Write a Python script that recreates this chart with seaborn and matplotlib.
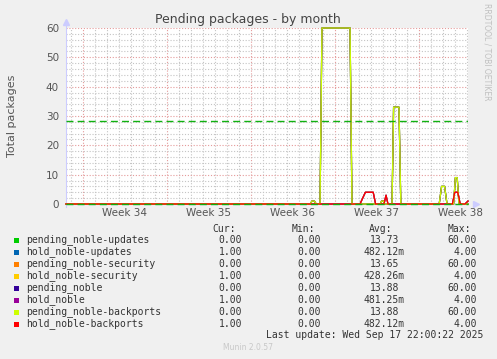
import pandas as pd
import numpy as np
import matplotlib
matplotlib.use('Agg')
import matplotlib.pyplot as plt
from matplotlib.ticker import FixedLocator, MultipleLocator
from matplotlib.patches import Rectangle
import seaborn as sns

# data (time in days from left edge of the graph)
series_names = ["pending_noble-updates", "hold_noble-updates", "pending_noble-security",
                "hold_noble-security", "pending_noble", "hold_noble",
                "pending_noble-backports", "hold_noble-backports"]
series_colors = ["#00CC00", "#0066B3", "#FF8000", "#FFCC00",
                 "#330099", "#990099", "#CCFF00", "#FF0000"]

t_pending = [0, 20.35, 20.5, 20.7, 20.85, 21.17, 21.33, 23.67, 23.83, 26.2, 26.3, 26.45, 26.55,
             27.17, 27.3, 27.75, 27.9, 31.1, 31.3, 31.55, 31.75, 32.3, 32.45, 32.6, 32.75, 33.5]
v_pending = [0, 0, 1, 1, 0, 0, 60, 60, 0, 0, 1, 1, 0,
             0, 33, 33, 0, 0, 6, 6, 0, 0, 9, 9, 0, 0]

t_hold = [0, 24.5, 24.95, 25.6, 25.8, 26.5, 26.67, 26.83, 32.2, 32.4, 32.65, 32.85, 33.25, 33.5]
v_hold = [0, 0, 4, 4, 0, 0, 3, 0, 0, 4, 4, 0, 0, 1]

week_labels = ["Week 34", "Week 35", "Week 36", "Week 37", "Week 38"]
week_starts = [1.39, 8.39, 15.39, 22.39, 29.39]
threshold = 28.3

cur = ["0.00", "1.00", "0.00", "1.00", "0.00", "1.00", "0.00", "1.00"]
mins = ["0.00"] * 8
avg = ["13.73", "482.12m", "13.65", "428.26m", "13.88", "481.25m", "13.88", "482.12m"]
mx = ["60.00", "4.00", "60.00", "4.00", "60.00", "4.00", "60.00", "4.00"]

rows = []
for name in series_names:
    if name.startswith("pending"):
        tt, vv = t_pending, v_pending
    else:
        tt, vv = t_hold, v_hold
    for a, b in zip(tt, vv):
        rows.append({"t": a, "v": b, "series": name})
df = pd.DataFrame(rows)

W, H = 497, 359
BG = "#f0f0f0"
fig = plt.figure(figsize=(W / 100, H / 100), dpi=100, facecolor=BG)
ax = fig.add_axes([66 / W, 1 - 204 / H, 402 / W, 176 / H])
ax.set_facecolor("white")

sns.lineplot(data=df, x="t", y="v", hue="series", hue_order=series_names,
             palette=series_colors, estimator=None, sort=False, legend=False,
             linewidth=0.9, ax=ax, clip_on=False, zorder=3)

# dashed reference lines
ax.axhline(threshold, color="#10b010", linestyle=(0, (5, 3)), linewidth=1.0, zorder=4)
ax.axhline(0, color="#10b010", linestyle=(0, (5, 3)), linewidth=1.0, zorder=5, clip_on=False)

ax.set_xlim(0, 33.5)
ax.set_ylim(0, 60)

# grid
ax.xaxis.set_major_locator(FixedLocator(week_starts))
ax.xaxis.set_minor_locator(FixedLocator(np.arange(0.39, 33.5, 1.0)))
ax.yaxis.set_major_locator(MultipleLocator(10))
ax.yaxis.set_minor_locator(MultipleLocator(2))
ax.grid(which="minor", color="#c4c4c4", linestyle=(0, (1, 1.6)), linewidth=0.8)
ax.grid(which="major", color="#e49a9a", linestyle=(0, (1, 1.6)), linewidth=0.8)
ax.set_axisbelow(True)
ax.set_xticklabels([])
ax.tick_params(which="both", length=0)
ax.tick_params(axis="y", labelsize=7.5, labelcolor="#555555", pad=5)

for lab, ws in zip(week_labels, week_starts):
    ax.text(ws + 3.5, -0.025, lab, transform=ax.get_xaxis_transform(),
            ha="center", va="top", fontsize=7.5, color="#555555")

for s in ["top", "right"]:
    ax.spines[s].set_visible(False)
ax.spines["left"].set_color("#ccccff")
ax.spines["bottom"].set_color("#ccccff")
ax.spines["left"].set_bounds(-1, 62)
ax.plot([0], [1.035], marker="^", color="#ccccff", markersize=4, transform=ax.transAxes, clip_on=False)
ax.plot([1.02], [0], marker=">", color="#ccccff", markersize=4, transform=ax.transAxes, clip_on=False)

ax.set_xlabel("")
ax.set_ylabel("Total packages", fontsize=8, color="#555555", labelpad=21)

fig.text(248 / W, 1 - 19 / H, "Pending packages - by month", ha="center", va="center",
         fontsize=9, color="#444444")
fig.text(487 / W, 1 - 52 / H, "RRDTOOL / TOBI OETIKER", rotation=270, ha="center", va="center",
         fontsize=5.5, color="#c0c0c0")

# legend
mono = "DejaVu Sans Mono"
def fy(y):
    return 1 - y / H

fs = 7
hy = 228.5
for lab, xr in [("Cur:", 236), ("Min:", 315), ("Avg:", 392), ("Max:", 471)]:
    fig.text(xr / W, fy(hy), lab, ha="right", va="center", family=mono, fontsize=fs, color="#333333")
for i, name in enumerate(series_names):
    y = 240 + 12 * i
    fig.patches.append(Rectangle((14 / W, fy(y + 2.5)), 5 / W, 5 / H, transform=fig.transFigure,
                                 facecolor=series_colors[i], edgecolor="none"))
    fig.text(26 / W, fy(y), name, ha="left", va="center", family=mono, fontsize=fs, color="#333333")
    fig.text(242 / W, fy(y), cur[i], ha="right", va="center", family=mono, fontsize=fs, color="#333333")
    fig.text(321 / W, fy(y), mins[i], ha="right", va="center", family=mono, fontsize=fs, color="#333333")
    xa = 405 if avg[i].endswith("m") else 399
    fig.text(xa / W, fy(y), avg[i], ha="right", va="center", family=mono, fontsize=fs, color="#333333")
    fig.text(477 / W, fy(y), mx[i], ha="right", va="center", family=mono, fontsize=fs, color="#333333")

fig.text(483 / W, fy(335), "Last update: Wed Sep 17 22:00:22 2025", ha="right", va="center",
         family=mono, fontsize=fs, color="#333333")
fig.text(248 / W, fy(348), "Munin 2.0.57", ha="center", va="center", fontsize=5.5, color="#c8c8c8")

fig.savefig("out.png", dpi=100, facecolor=BG)
